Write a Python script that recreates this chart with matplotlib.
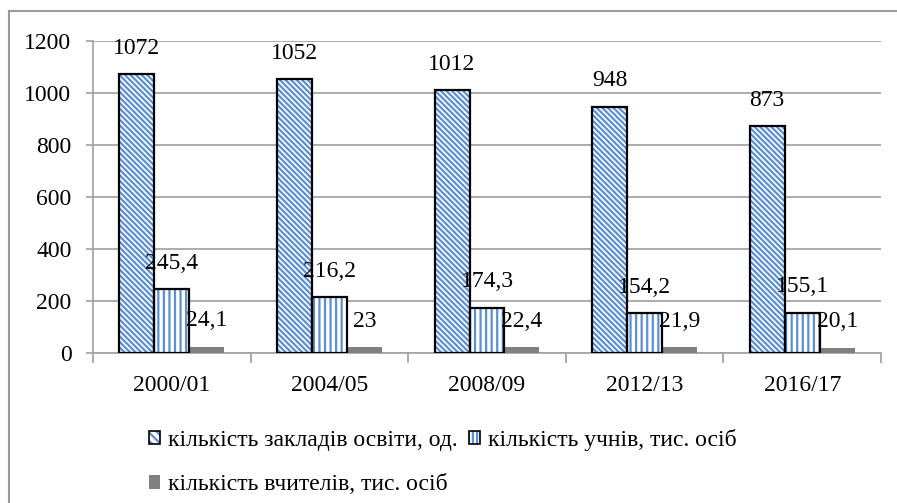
import matplotlib
matplotlib.use("Agg")
import matplotlib.pyplot as plt
from matplotlib.patches import Patch
from matplotlib.lines import Line2D
from matplotlib.legend_handler import HandlerTuple
import numpy as np

categories = ["2000/01", "2004/05", "2008/09", "2012/13", "2016/17"]
institutions = [1072, 1052, 1012, 948, 873]
students = [245.4, 216.2, 174.3, 154.2, 155.1]
teachers = [24.1, 23, 22.4, 21.9, 20.1]
series_names = ["кількість закладів освіти, од.",
                "кількість учнів, тис. осіб",
                "кількість вчителів, тис. осіб"]
yticks = [0, 200, 400, 600, 800, 1000, 1200]

W, H = 897, 503
plt.rcParams['font.family'] = ['Liberation Serif', 'DejaVu Serif']
plt.rcParams['hatch.linewidth'] = 1.6
FS = 17
BLUE = "#5b8fd6"
GRID = "#a6a6a6"
GREYBAR = "#808080"

fig = plt.figure(figsize=(W / 100, H / 100), dpi=100)
ax = fig.add_axes([93 / W, 1 - 353 / H, (881 - 93) / W, (353 - 41) / H])

x = np.arange(len(categories))
bw = 0.222

def fmt(v):
    s = f"{v:g}"
    return s.replace(".", ",")

HATCH1 = "\\" * 6
HATCH2 = "|||"

# series 1: diagonal hatch
ax.bar(x - bw, institutions, bw, color="white", edgecolor=BLUE, hatch=HATCH1, linewidth=0, zorder=3)
ax.bar(x - bw, institutions, bw, fill=False, edgecolor="black", linewidth=1.6, zorder=4)
# series 2: vertical hatch
ax.bar(x, students, bw, color="white", edgecolor=BLUE, hatch=HATCH2, linewidth=0, zorder=3)
ax.bar(x, students, bw, fill=False, edgecolor="black", linewidth=1.6, zorder=4)
# series 3: grey solid
ax.bar(x + bw, teachers, bw, color=GREYBAR, linewidth=0, zorder=3)

for off, vals in ((-bw, institutions), (0, students), (bw, teachers)):
    for xi, v in zip(x, vals):
        ax.annotate(fmt(v), (xi + off, v), xytext=(0, 11), textcoords="offset points",
                    ha="center", va="bottom", fontsize=FS, zorder=5)

ax.set_xlim(-0.5, len(categories) - 0.5)
ax.set_ylim(0, 1200)
ax.set_yticks(yticks)
ax.set_yticklabels([str(t) for t in yticks], fontsize=FS)
ax.set_xticks(x)
ax.set_xticklabels(categories, fontsize=FS)
ax.set_xticks(np.arange(len(categories) + 1) - 0.5, minor=True)
ax.tick_params(axis="x", which="major", length=0, pad=16)
ax.tick_params(axis="x", which="minor", length=7, color=GRID, width=1.3)
ax.tick_params(axis="y", length=5, color=GRID, width=1.3, pad=10.5)
ax.yaxis.grid(True, color=GRID, linewidth=1.3, zorder=0)
ax.set_axisbelow(True)
for s in ("top", "right"):
    ax.spines[s].set_visible(False)
for s in ("left", "bottom"):
    ax.spines[s].set_color(GRID)
    ax.spines[s].set_linewidth(1.3)

# legend
outline = Patch(facecolor="none", edgecolor="black", linewidth=1.2)
h1 = (Patch(facecolor="white", edgecolor=BLUE, hatch="\\\\\\\\", linewidth=0), outline)
h2 = (Patch(facecolor="white", edgecolor=BLUE, hatch="||||", linewidth=0), outline)
h3 = Patch(facecolor=GREYBAR, linewidth=0)
leg = fig.legend([h1, h3, h2], [series_names[0], series_names[2], series_names[1]],
                 ncol=2, loc="upper left", bbox_to_anchor=(137 / W, 1 - 417 / H),
                 frameon=False, fontsize=FS, handlelength=0.48, handleheight=0.48,
                 handletextpad=0.35, columnspacing=0.45, labelspacing=1.0, borderpad=0,
                 handler_map={tuple: HandlerTuple(ndivide=1, pad=0)})

# outer frame
fig.add_artist(Line2D([8.5 / W, 8.5 / W], [0, 1 - 11 / H], color="#9a9a9a", linewidth=1.5))
fig.add_artist(Line2D([8.5 / W, 1], [1 - 11 / H, 1 - 11 / H], color="#9a9a9a", linewidth=1.5))

fig.savefig("out.png", dpi=100)
